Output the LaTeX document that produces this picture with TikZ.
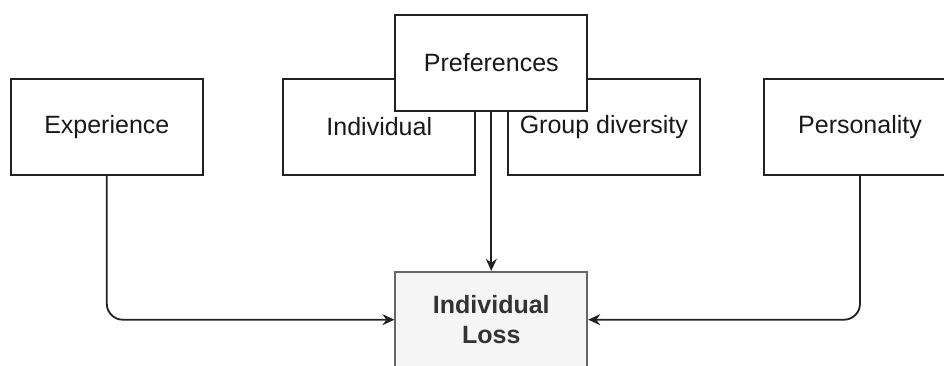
\documentclass[tikz,border=0pt]{standalone}
\usepackage{fontspec}
\setmainfont{Liberation Sans}
\usetikzlibrary{arrows.meta}
\definecolor{lossfill}{HTML}{F5F5F5}
\definecolor{lossline}{HTML}{666666}
\definecolor{losstext}{HTML}{333333}
\definecolor{edge}{HTML}{222222}
\begin{document}
\begin{tikzpicture}[x=1pt,y=-1pt,
  factor/.style={draw=edge,line width=1.8pt,fill=white,minimum width=192pt,
    minimum height=96pt,inner sep=0pt,font=\fontsize{25}{30}\selectfont,
    text=black!90},
  outcome/.style={factor,draw=lossline,fill=lossfill,text=losstext,
    font=\fontsize{25}{30}\selectfont\bfseries,align=center},
  link/.style={draw=edge,line width=1.8pt,rounded corners=16pt,
    -{Stealth[length=12pt,width=11pt,inset=4pt]}}]
  \useasboundingbox (0,0) rectangle (944,365);
  \clip (0,0) rectangle (944,365);
  % influencing factors
  \node[factor] (exp) at (106.8,127) {Experience};
  \node[factor] (ind) at (379.3,127) {Individual};
  \node[factor] (grp) at (603.8,127) {Group diversity};
  \node[factor] (per) at (860,127) {Personality};
  \node[factor] (pref) at (491.3,62.7) {Preferences};
  % outcome
  \node[outcome] (loss) at (491.3,319.7) {Individual\\Loss};
  % connectors
  \draw[link] (exp.south) |- (loss.west);
  \draw[link] (per.south) |- (loss.east);
  \draw[link] (pref.south) -- (loss.north);
\end{tikzpicture}
\end{document}
